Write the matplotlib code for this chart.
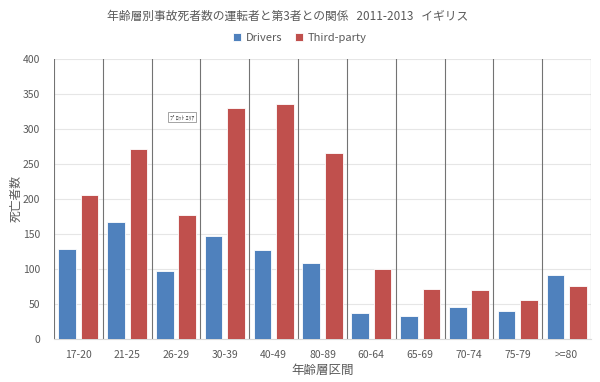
import numpy as np
import matplotlib
matplotlib.use("Agg")
import matplotlib.pyplot as plt

plt.rcParams['font.family'] = ['Noto Sans CJK JP', 'DejaVu Sans']

# データ
age_groups = ['17-20', '21-25', '26-29', '30-39', '40-49', '80-89',
              '60-64', '65-69', '70-74', '75-79', '>=80']
drivers = [128, 167, 97, 147, 127, 108, 37, 33, 46, 40, 92]
third_party = [205, 271, 177, 330, 335, 266, 100, 72, 70, 55, 75]

gray = '#595959'

fig = plt.figure(figsize=(6, 3.82), dpi=100)
ax = fig.add_axes([0.09, 0.1126, 0.895, 0.733])

x = np.arange(len(age_groups))
w = 0.36
ax.bar(x - 0.23, drivers, w, color='#4F81BD', edgecolor='white', linewidth=0.6,
       label='Drivers', zorder=3)
ax.bar(x + 0.23, third_party, w, color='#C0504D', edgecolor='white', linewidth=0.6,
       label='Third-party', zorder=3)

ax.set_xlim(-0.5, len(age_groups) - 0.5)
ax.set_ylim(0, 400)
ax.set_yticks(np.arange(0, 401, 50))
ax.set_xticks(x)
ax.set_xticklabels(age_groups)

# グリッド
ax.yaxis.grid(True, color='#E6E6E6', linewidth=0.8, zorder=0)
for xv in np.arange(-0.5, len(age_groups), 1.0):
    ax.axvline(xv, color='#737373', linewidth=0.8, zorder=2)

for s in ['top', 'right', 'left']:
    ax.spines[s].set_visible(False)
ax.spines['bottom'].set_color('#D9D9D9')
ax.tick_params(axis='both', length=0, labelsize=7.5, colors=gray)
ax.tick_params(axis='x', pad=8)
ax.tick_params(axis='y', pad=10)

ax.set_xlabel('年齢層区間', fontsize=9, color=gray, labelpad=3)
ax.set_ylabel('死亡者数', fontsize=8.5, color=gray, labelpad=0)

fig.suptitle('年齢層別事故死者数の運転者と第3者との関係   2011-2013   イギリス',
             fontsize=8.5, color=gray, x=0.48, y=0.975)

leg = fig.legend(loc='center', bbox_to_anchor=(0.5, 0.9), ncol=2, frameon=False,
                 fontsize=8, handlelength=0.7, handleheight=0.7,
                 columnspacing=1.2, handletextpad=0.4)
for t in leg.get_texts():
    t.set_color(gray)

# プロットエリアのツールチップ
ax.text(1.88, 317, 'ﾌﾟﾛｯﾄ ｴﾘｱ', fontsize=4.2, color='#404040',
        va='center', ha='left', zorder=5,
        bbox=dict(boxstyle='square,pad=0.35', fc='white', ec='#808080', lw=0.5))

fig.savefig('out.png', dpi=100)
